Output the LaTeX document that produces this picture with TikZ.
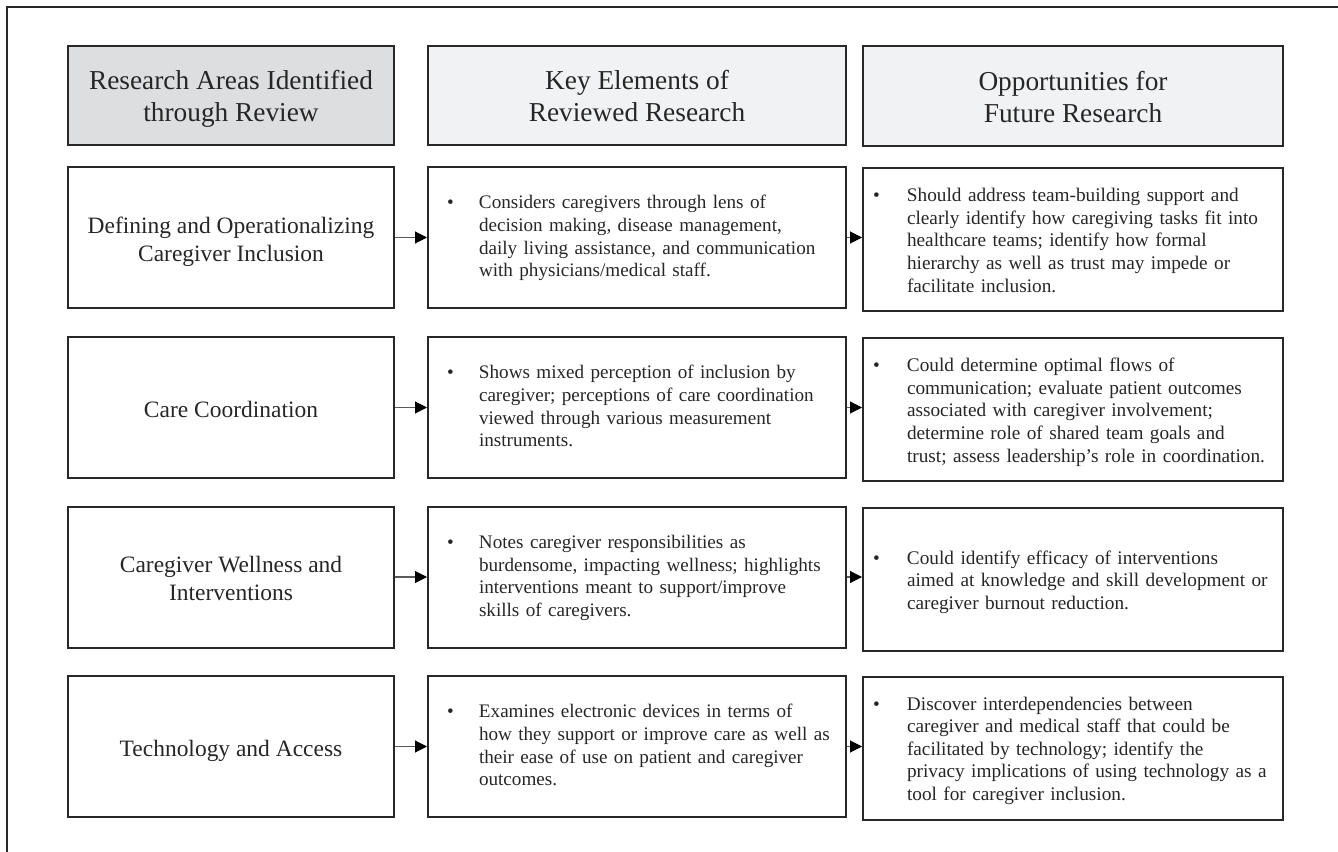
\documentclass[tikz,border=0pt]{standalone}
\usepackage{fontspec}
\setmainfont{Liberation Serif}
\usetikzlibrary{arrows.meta}
\definecolor{hdark}{RGB}{221,222,224}
\definecolor{hlight}{RGB}{241,242,243}
\definecolor{edge}{RGB}{40,40,40}
\definecolor{arrline}{RGB}{90,90,90}
\newcommand{\lowerby}[2]{\raisebox{-#1}[\height][\depth]{#2}}
\newcommand{\ctab}[1]{\lowerby{3pt}{\begin{tabular}{@{}c@{}}#1\end{tabular}}}
\newcommand{\ktab}[1]{\lowerby{0.6pt}{\begin{tabular}{@{}p{24pt}@{}l@{}}\textbullet & #1\end{tabular}}}
\newcommand{\otab}[1]{\lowerby{2.2pt}{\begin{tabular}{@{}p{25.5pt}@{}l@{}}\textbullet & #1\end{tabular}}}
\begin{document}
\begin{tikzpicture}[x=0.75pt,y=-0.75pt,
  box/.style={draw=edge, line width=1.5pt, rectangle, inner sep=0pt},
  hdr/.style={box, align=center, font=\fontsize{20.5}{24}\selectfont, text=black!85},
  area/.style={box, minimum width=244.5pt, minimum height=105.75pt, align=center, font=\fontsize{17.6}{21}\selectfont, text=black!85},
  keyel/.style={box, minimum width=313.5pt, minimum height=105.75pt, inner xsep=14.25pt, text width=285pt, align=left, font=\fontsize{14.35}{17}\selectfont, text=black!85},
  oppo/.style={box, minimum width=315pt, minimum height=107.25pt, inner xsep=7.5pt, text width=300pt, align=left, font=\fontsize{14.45}{16.9}\selectfont, text=black!85},
  arr/.style={draw=arrline, line width=0.8pt, -{Triangle[length=9pt,width=9pt,color=black]}},
  frame/.style={draw=edge, line width=1pt}
]
\useasboundingbox (0,0) rectangle (1338,852);
\coordinate (fb) at (7,852);
\coordinate (fc) at (7,7);
\coordinate (fr) at (1338,7);
\draw[frame] (fb) -- (fc) -- (fr);

% headers
\node[hdr, fill=hdark, minimum width=244.5pt, minimum height=74.25pt] (h1) at (231,95.5) {\ctab{Research Areas Identified\\through Review}};
\node[hdr, fill=hlight, minimum width=313.5pt, minimum height=74.25pt] (h2) at (637,95.5) {\ctab{Key Elements of\\Reviewed Research}};
\node[hdr, fill=hlight, minimum width=315pt, minimum height=75pt] (h3) at (1073,96) {\ctab{Opportunities for\\Future Research}};

% column 1
\node[area] (a1) at (231,237.5) {\ctab{Defining and Operationalizing\\Caregiver Inclusion}};
\node[area] (a2) at (231,407.5) {\ctab{Care Coordination}};
\node[area] (a3) at (231,577) {\ctab{Caregiver Wellness and\\Interventions}};
\node[area] (a4) at (231,746.5) {\ctab{Technology and Access}};

% column 2
\node[keyel] (k1) at (637,237.5) {\ktab{Considers caregivers through lens of\\ & decision making, disease management,\\ & daily living assistance, and communication\\ & with physicians/medical staff.}};
\node[keyel] (k2) at (637,407.5) {\ktab{Shows mixed perception of inclusion by\\ & caregiver; perceptions of care coordination\\ & viewed through various measurement\\ & instruments.}};
\node[keyel] (k3) at (637,577) {\ktab{Notes caregiver responsibilities as\\ & burdensome, impacting wellness; highlights\\ & interventions meant to support/improve\\ & skills of caregivers.}};
\node[keyel] (k4) at (637,746.5) {\ktab{Examines electronic devices in terms of\\ & how they support or improve care as well as\\ & their ease of use on patient and caregiver\\ & outcomes.}};

% column 3
\node[oppo] (o1) at (1073,239.5) {\otab{Should address team-building support and\\ & clearly identify how caregiving tasks fit into\\ & healthcare teams; identify how formal\\ & hierarchy as well as trust may impede or\\ & facilitate inclusion.}};
\node[oppo] (o2) at (1073,409.5) {\otab{Could determine optimal flows of\\ & communication; evaluate patient outcomes\\ & associated with caregiver involvement;\\ & determine role of shared team goals and\\ & trust; assess leadership’s role in coordination.}};
\node[oppo] (o3) at (1073,579.5) {\otab{Could identify efficacy of interventions\\ & aimed at knowledge and skill development or\\ & caregiver burnout reduction.}};
\node[oppo] (o4) at (1073,748) {\otab{Discover interdependencies between\\ & caregiver and medical staff that could be\\ & facilitated by technology; identify the\\ & privacy implications of using technology as a\\ & tool for caregiver inclusion.}};

% connectors
\foreach \i in {1,2,3,4}{
  \draw[arr] (a\i.east) -- (k\i.west);
  \draw[arr] (k\i.east) -- (k\i.east -| o\i.west);
}
\end{tikzpicture}
\end{document}
